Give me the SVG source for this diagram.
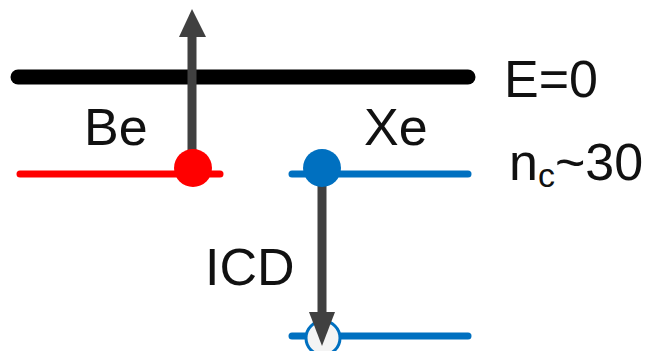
<svg xmlns="http://www.w3.org/2000/svg" width="657" height="351" viewBox="0 0 657 351">
<style>
text{font-family:"Liberation Sans",Arial,sans-serif;font-size:52px;fill:#111}
.lvl{stroke-width:7;stroke-linecap:round}
.arr{stroke:#404040;stroke-width:9}
</style>
<rect width="657" height="351" fill="#fff"/>
<g id="levels">
<line x1="18" y1="77" x2="468" y2="77" stroke="#000" stroke-width="15" stroke-linecap="round"/>
<line class="lvl" x1="20" y1="174" x2="220" y2="174" stroke="#ff0000"/>
<line class="lvl" x1="292" y1="174" x2="468" y2="174" stroke="#0070c0"/>
<line class="lvl" x1="292" y1="336" x2="468" y2="336" stroke="#0070c0"/>
</g>
<g id="connectors">
<line class="arr" x1="192" y1="168" x2="192" y2="34"/>
<polygon points="192,9 179,37 206,37" fill="#404040"/>
<line class="arr" x1="322" y1="168" x2="322" y2="314"/>
</g>
<g id="be-state"><circle cx="193" cy="168" r="19" fill="#ff0000"/></g>
<g id="xe-state"><circle cx="322" cy="168" r="19" fill="#0070c0"/></g>
<g id="xe-lower"><circle cx="323" cy="338" r="17" fill="#f4f4f4" stroke="#0070c0" stroke-width="3"/>
<polygon points="322,346 309,312 335,312" fill="#404040"/></g>
<g id="labels">
<text x="84" y="145">Be</text>
<text x="364" y="145">Xe</text>
<text x="504" y="97">E=0</text>
<text x="509" y="180" font-size="54">n<tspan font-size="34" dy="7">c</tspan><tspan dy="-7">~30</tspan></text>
<text x="205" y="285" font-size="55">ICD</text>
</g>
</svg>
